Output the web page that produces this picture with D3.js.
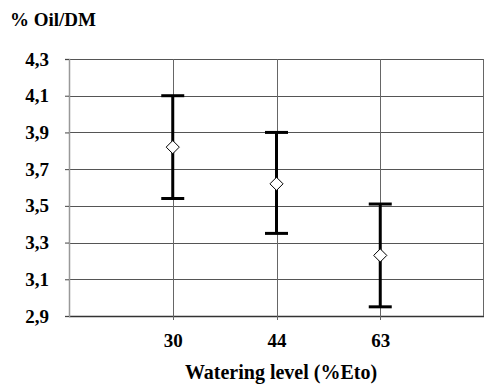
<!DOCTYPE html>
<html>
<head>
<meta charset="utf-8">
<script src="https://cdn.jsdelivr.net/npm/d3@7"></script>
<style>
  html, body { margin: 0; padding: 0; background: #fff; }
  svg { display: block; }
  text { font-family: "Liberation Serif", "Times New Roman", serif; font-weight: bold; fill: #000; }
</style>
</head>
<body>
<div id="chart"></div>
<script>
// data
const levels = ["30", "44", "63"];
const means = [3.82, 3.62, 3.23];
const upper = [4.10, 3.90, 3.51];
const lower = [3.54, 3.35, 2.95];
const yTicks = [2.9, 3.1, 3.3, 3.5, 3.7, 3.9, 4.1, 4.3];

const width = 485, height = 385;
const plotLeft = 69, plotRight = 484, plotTop = 59, plotBottom = 316;

const svg = d3.select("#chart").append("svg")
  .attr("width", width)
  .attr("height", height);

const x = d3.scalePoint().domain(levels).range([plotLeft, plotRight]).padding(1);
const y = d3.scaleLinear().domain([2.9, 4.3]).range([plotBottom, plotTop]);

// horizontal grid
svg.append("g")
  .selectAll("line")
  .data(yTicks)
  .join("line")
  .attr("x1", plotLeft).attr("x2", plotRight)
  .attr("y1", d => Math.round(y(d)) + 0.5)
  .attr("y2", d => Math.round(y(d)) + 0.5)
  .attr("stroke", d => d === 2.9 ? "#333" : "#555")
  .attr("stroke-width", d => d === 2.9 ? 1.6 : 1);

// vertical grid lines at categories plus right border
svg.append("g")
  .selectAll("line")
  .data(levels)
  .join("line")
  .attr("x1", d => Math.round(x(d)) + 0.5)
  .attr("x2", d => Math.round(x(d)) + 0.5)
  .attr("y1", plotTop).attr("y2", plotBottom + 4)
  .attr("stroke", "#666");

svg.append("line")
  .attr("x1", plotRight - 0.5).attr("x2", plotRight - 0.5)
  .attr("y1", plotTop).attr("y2", plotBottom)
  .attr("stroke", "#666");

// left axis
const yAxis = d3.axisLeft(y)
  .tickValues(yTicks)
  .tickSize(4)
  .tickPadding(16)
  .tickFormat(d => d3.format(".1f")(d).replace(".", ","));

const ya = svg.append("g")
  .attr("transform", `translate(${plotLeft},0)`)
  .call(yAxis);
ya.select(".domain").attr("stroke", "#999").attr("stroke-width", 1.5);
ya.selectAll(".tick line").attr("stroke", "#444");
ya.selectAll("text")
  .attr("font-size", 19)
  .attr("font-family", "Liberation Serif")
  .attr("font-weight", "bold")
  .attr("fill", "#000");

// bottom tick labels
const xAxis = d3.axisBottom(x).tickSize(0).tickPadding(18);
const xa = svg.append("g")
  .attr("transform", `translate(0,${plotBottom})`)
  .call(xAxis);
xa.select(".domain").remove();
xa.selectAll("text")
  .attr("font-size", 19)
  .attr("font-family", "Liberation Serif")
  .attr("font-weight", "bold")
  .attr("fill", "#000");

// error bars
const bars = svg.append("g")
  .selectAll("g")
  .data(levels)
  .join("g");

bars.append("line")
  .attr("x1", d => x(d)).attr("x2", d => x(d))
  .attr("y1", (d, i) => y(upper[i]))
  .attr("y2", (d, i) => y(lower[i]))
  .attr("stroke", "#000")
  .attr("stroke-width", 3);

bars.selectAll(".cap")
  .data((d, i) => [upper[i], lower[i]].map(v => ({ c: d, v })))
  .join("line")
  .attr("class", "cap")
  .attr("x1", d => x(d.c) - 11.5).attr("x2", d => x(d.c) + 11.5)
  .attr("y1", d => y(d.v)).attr("y2", d => y(d.v))
  .attr("stroke", "#000")
  .attr("stroke-width", 3);

// mean markers
bars.append("path")
  .attr("d", d3.symbol(d3.symbolDiamond2, 110))
  .attr("transform", (d, i) => `translate(${x(d)},${y(means[i])})`)
  .attr("fill", "#fff")
  .attr("stroke", "#000")
  .attr("stroke-width", 1);

// titles
svg.append("text")
  .attr("x", 10).attr("y", 26)
  .attr("font-size", 19)
  .text("% Oil/DM");

svg.append("text")
  .attr("x", 281).attr("y", 379)
  .attr("text-anchor", "middle")
  .attr("font-size", 20)
  .text("Watering level (%Eto)");
</script>
</body>
</html>
